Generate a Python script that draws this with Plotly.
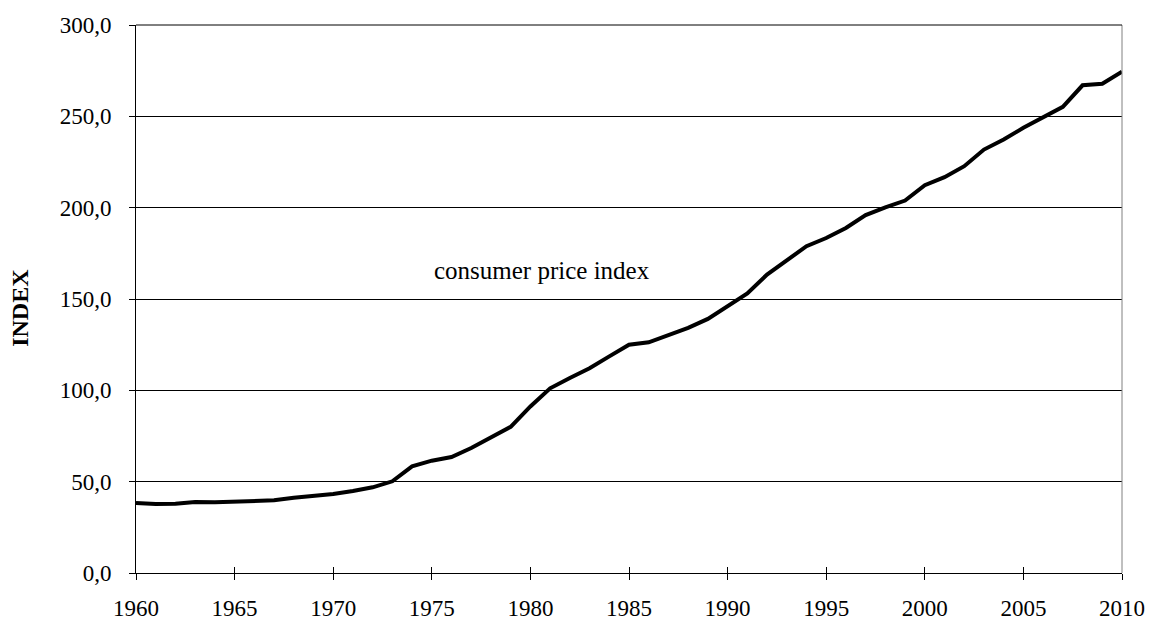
import plotly.graph_objects as go

years = list(range(1960, 2011))
cpi = [38.3, 37.8, 37.9, 38.9, 38.7, 38.9, 39.2, 39.8, 41.2, 42.2,
       43.2, 44.9, 46.9, 50.2, 58.4, 61.5, 63.5, 68.4, 73.9, 80.0,
       91.2, 101.1, 106.8, 112.1, 118.6, 125.0, 126.3, 130.0, 134.2, 139.1,
       146.0, 153.0, 163.4, 171.2, 178.9, 183.4, 188.9, 195.9, 200.2, 203.9,
       212.3, 216.7, 222.7, 231.8, 237.3, 243.7, 249.7, 255.2, 267.0, 267.8,
       274.4]
x_ticks = list(range(1960, 2011, 5))
y_ticks = [0, 50, 100, 150, 200, 250, 300]
label_text = "consumer price index"
label_x, label_y = 1980.6, 165.5
y_title = "INDEX"

FONT = "Liberation Serif"

fig = go.Figure()
fig.add_trace(go.Scatter(x=years, y=cpi, mode="lines",
                         line=dict(color="black", width=4),
                         showlegend=False, hoverinfo="skip"))
# transparent copy on secondary axes, used only to draw the inner half of crossing ticks
fig.add_trace(go.Scatter(x=years, y=cpi, mode="lines", xaxis="x2", yaxis="y2",
                         line=dict(color="rgba(0,0,0,0)", width=0),
                         showlegend=False, hoverinfo="skip"))

common_x = dict(range=[1960, 2010], tickvals=x_ticks, ticklen=6, tickwidth=1,
                tickcolor="black", showgrid=False, zeroline=False,
                automargin=False, fixedrange=True)
common_y = dict(range=[0, 300], tickvals=y_ticks, ticklen=6, tickwidth=1,
                tickcolor="black", zeroline=False, automargin=False,
                fixedrange=True)

fig.update_layout(
    template="none",
    width=1151, height=622,
    paper_bgcolor="white", plot_bgcolor="white",
    separators=",.",
    margin=dict(l=136, r=29, t=25, b=49, pad=0),
    font=dict(family=FONT, size=23, color="black"),
    xaxis=dict(**common_x, ticks="outside", showline=True, linecolor="black",
               linewidth=1, ticklabelstandoff=8,
               tickfont=dict(family=FONT, size=23, color="black")),
    xaxis2=dict(**common_x, ticks="inside", overlaying="x", side="bottom",
                showline=False, showticklabels=False),
    yaxis=dict(**common_y, ticks="outside", showline=True, linecolor="black",
               linewidth=1, tickformat=".1f", showgrid=True,
               gridcolor="black", gridwidth=1, ticklabelstandoff=13,
               tickfont=dict(family=FONT, size=23, color="black")),
    yaxis2=dict(**common_y, ticks="inside", overlaying="y", side="left",
                showline=False, showticklabels=False, showgrid=False),
    annotations=[
        dict(x=label_x, y=label_y, xref="x", yref="y",
             text=label_text, showarrow=False,
             font=dict(family=FONT, size=25, color="black")),
        dict(x=-0.1176, y=0.484, xref="paper", yref="paper", text=y_title,
             textangle=-90, showarrow=False, xanchor="center", yanchor="middle",
             font=dict(family=FONT, size=24, color="black", weight="bold")),
    ],
    shapes=[
        dict(type="line", xref="paper", yref="paper", x0=1, x1=1,
             y0=0, y1=1, line=dict(color="#808080", width=1)),
        dict(type="line", xref="paper", yref="paper", x0=0, x1=1,
             y0=1, y1=1, line=dict(color="black", width=1)),
    ],
)

fig.write_html("out.html",
               config={"displayModeBar": False, "staticPlot": True},
               post_script="document.body.style.margin='0px';"
                           "document.body.style.overflow='hidden';")
